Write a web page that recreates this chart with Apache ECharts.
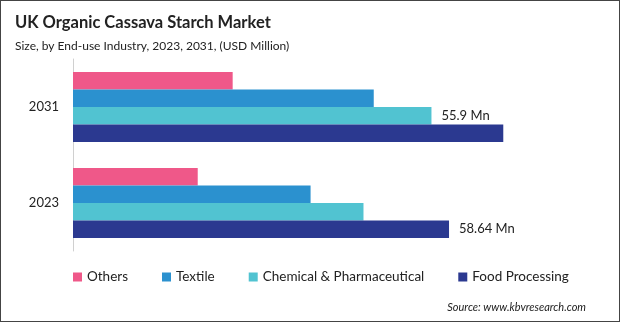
<!DOCTYPE html>
<html><head><meta charset="utf-8">
<script src="https://cdn.jsdelivr.net/npm/echarts@6/dist/echarts.min.js"></script>
<style>html,body{margin:0;padding:0;background:#fff}#c{width:620px;height:322px;box-sizing:border-box;border:1px solid #444}</style>
</head><body><div id="c"></div>
<script>
var categories = ['2023', '2031'];
var seriesNames = ['Others', 'Textile', 'Chemical & Pharmaceutical', 'Food Processing'];
var others = [19.45, 24.9];
var textile = [37.05, 46.9];
var chemical = [45.3, 55.9];
var food = [58.64, 67.1];
var labelTexts = { 'Chemical & Pharmaceutical': [null, '55.9 Mn'], 'Food Processing': ['58.64 Mn', null] };
var colors = { 'Others': '#EF5889', 'Textile': '#2B91CF', 'Chemical & Pharmaceutical': '#51C3D1', 'Food Processing': '#2B3990' };
var values = { 'Others': others, 'Textile': textile, 'Chemical & Pharmaceutical': chemical, 'Food Processing': food };

var FONT = 'Lato';
var chart = echarts.init(document.getElementById('c'), null, { renderer: 'canvas' });
var series = seriesNames.map(function (n) {
  var lt = labelTexts[n];
  return {
    name: n, type: 'bar', barGap: '0%', barCategoryGap: '27%',
    itemStyle: { color: colors[n] },
    data: values[n].map(function (v, i) {
      var d = { value: v };
      if (lt && lt[i]) {
        d.label = { show: true, position: 'right', distance: 10, formatter: lt[i], color: '#222', fontSize: 13, fontFamily: FONT };
      }
      return d;
    }),
    label: { show: false }
  };
});
chart.setOption({
  animation: false,
  textStyle: { fontFamily: FONT },
  title: [
    { text: 'UK Organic Cassava Starch Market', left: 9, top: 8, textStyle: { fontSize: 16.5, fontWeight: 'bold', color: '#222', fontFamily: FONT } },
    { text: 'Size, by End-use Industry, 2023, 2031, (USD Million)', left: 9, top: 34, textStyle: { fontSize: 12, fontWeight: 'normal', color: '#222', fontFamily: FONT } },
    { text: 'Source: www.kbvresearch.com', right: 28, top: 296, textStyle: { fontSize: 11, fontStyle: 'italic', fontWeight: 'normal', color: '#222', fontFamily: FONT } }
  ],
  legend: {
    data: seriesNames, left: 67, top: 264, icon: 'rect', itemWidth: 9, itemHeight: 9, itemGap: 34,
    textStyle: { fontSize: 13.5, color: '#222', fontFamily: FONT }
  },
  grid: { left: 72, right: 33, top: 58, height: 192 },
  xAxis: { type: 'value', min: 0, max: 80, show: false },
  yAxis: {
    type: 'category', data: categories,
    axisLine: { show: true, lineStyle: { color: '#d0d0d0' } },
    axisTick: { show: false },
    axisLabel: { fontSize: 13, color: '#222', margin: 14, fontFamily: FONT }
  },
  series: series
});
</script></body></html>
